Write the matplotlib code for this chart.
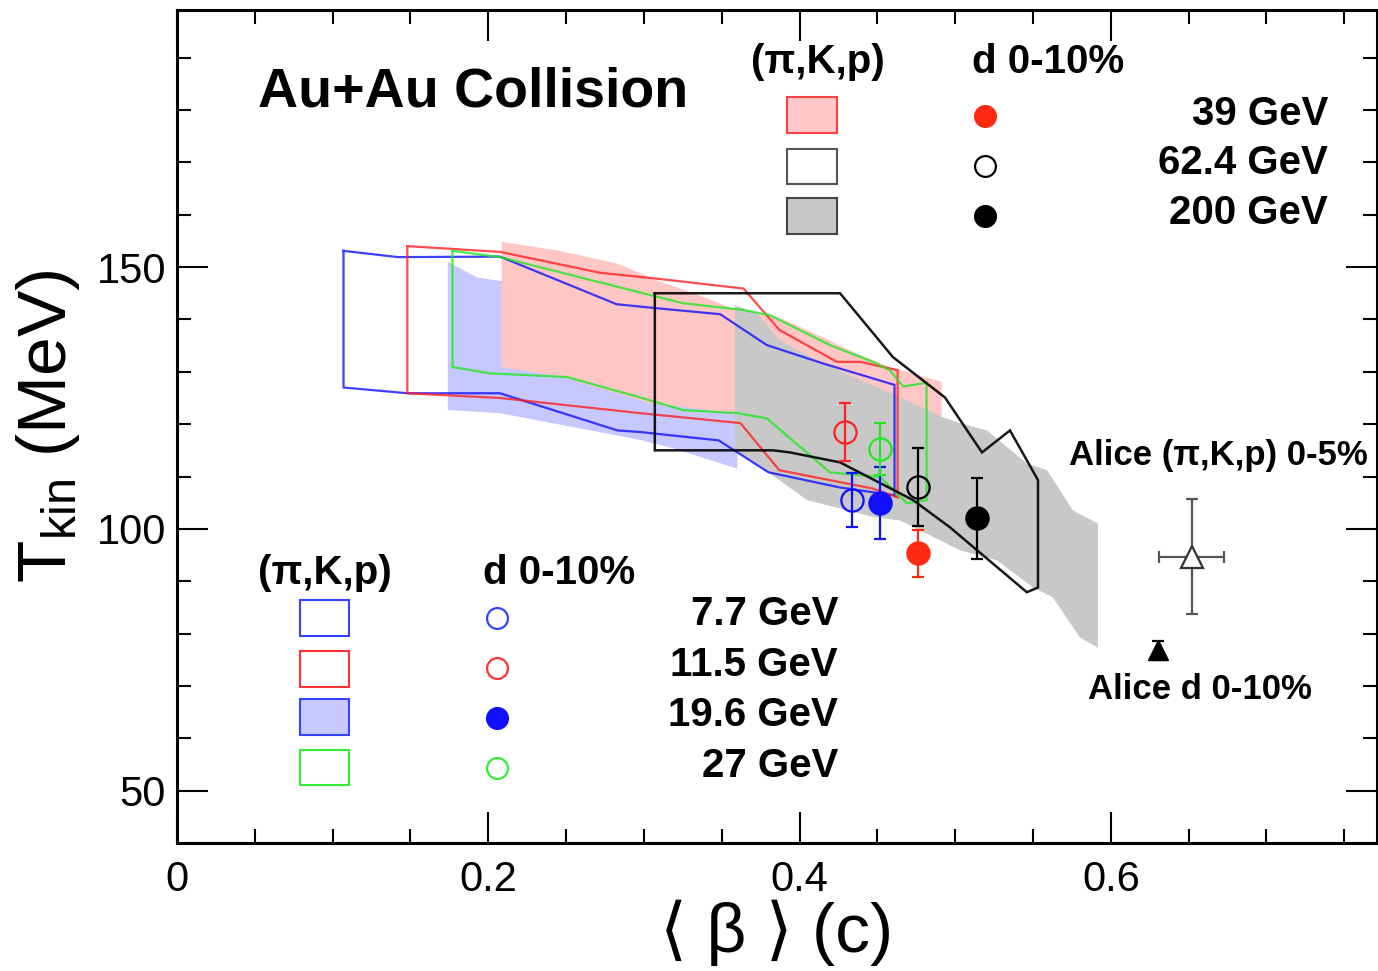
import numpy as np
import matplotlib
matplotlib.use("Agg")
import matplotlib.pyplot as plt
from matplotlib.patches import Rectangle
from matplotlib.ticker import MultipleLocator, FuncFormatter

plt.rcParams['font.family'] = ['Liberation Sans', 'DejaVu Sans']
plt.rcParams['mathtext.fontset'] = 'custom'
plt.rcParams['mathtext.rm'] = 'Liberation Sans'
plt.rcParams['mathtext.it'] = 'Liberation Sans:italic'
plt.rcParams['mathtext.bf'] = 'Liberation Sans:bold'

# (pi,K,p) blast-wave contours, open: upper edge and lower edge
c77_up_x = [0.107, 0.142, 0.2075, 0.2825, 0.306, 0.349, 0.379, 0.415, 0.461]
c77_up_y = [153.1, 151.9, 152.0, 142.9, 142.2, 141.0, 135.1, 131.6, 127.5]
c77_lo_x = [0.107, 0.148, 0.2075, 0.283, 0.2975, 0.348, 0.380, 0.426, 0.461]
c77_lo_y = [127.0, 125.9, 125.9, 118.8, 118.5, 116.9, 110.8, 107.9, 106.4]

c115_up_x = [0.148, 0.2075, 0.272, 0.308, 0.364, 0.387, 0.424, 0.439, 0.463]
c115_up_y = [154.0, 152.9, 148.9, 147.8, 145.9, 138.0, 131.9, 131.9, 130.3]
c115_lo_x = [0.148, 0.2075, 0.2975, 0.362, 0.387, 0.447, 0.463]
c115_lo_y = [125.9, 125.0, 122.1, 120.2, 111.2, 107.7, 106.0]

c27_up_x = [0.177, 0.2075, 0.325, 0.364, 0.381, 0.4195, 0.447, 0.458, 0.4666, 0.4816]
c27_up_y = [153.1, 151.9, 143.1, 141.8, 140.8, 135.1, 131.9, 130.3, 127.2, 127.9]
c27_lo_x = [0.177, 0.201, 0.2506, 0.2975, 0.325, 0.360, 0.379, 0.4195, 0.4517, 0.469, 0.4816]
c27_lo_y = [130.9, 129.7, 129.0, 125.1, 122.7, 122.1, 121.1, 110.8, 109.9, 104.9, 105.5]

c624_up_x = [0.307, 0.426, 0.460, 0.4934, 0.5172, 0.5352, 0.5532]
c624_up_y = [145.0, 145.0, 132.8, 125.1, 114.6, 118.8, 109.3]
c624_lo_x = [0.307, 0.383, 0.3938, 0.426, 0.4729, 0.4966, 0.546, 0.5532]
c624_lo_y = [115.0, 115.0, 114.6, 112.7, 105.5, 100.3, 87.9, 88.8]

# filled bands
f196_up_x = [0.174, 0.193, 0.209, 0.360]
f196_up_y = [151.0, 148.0, 147.3, 140.0]
f196_lo_x = [0.174, 0.2075, 0.2975, 0.3187, 0.360]
f196_lo_y = [122.7, 122.1, 117.0, 115.4, 111.5]

f39_up_x = [0.2086, 0.244, 0.2825, 0.3082, 0.338, 0.3596, 0.3789, 0.3874, 0.415, 0.4367, 0.458, 0.4913]
f39_up_y = [154.8, 153.2, 150.7, 147.5, 144.3, 141.8, 140.8, 140.3, 136.6, 133.5, 130.9, 128.1]
f39_lo_x = [0.2086, 0.248, 0.304, 0.360, 0.400, 0.450, 0.4913]
f39_lo_y = [130.9, 129.0, 124.0, 122.0, 122.0, 121.5, 121.3]

f200_up_x = [0.3585, 0.3724, 0.3874, 0.415, 0.458, 0.4924, 0.503, 0.5204, 0.546, 0.559, 0.5757, 0.5917]
f200_up_y = [142.7, 141.2, 136.0, 131.6, 126.0, 121.3, 120.2, 118.8, 112.5, 111.2, 103.5, 101.0]
f200_lo_x = [0.3585, 0.387, 0.4048, 0.447, 0.4645, 0.503, 0.5268, 0.55, 0.5628, 0.580, 0.5917]
f200_lo_y = [115.0, 109.3, 105.5, 102.3, 101.6, 95.9, 94.0, 88.8, 86.9, 79.3, 77.3]

# deuteron 0-10% points
energies = ["7.7", "11.5", "19.6", "27", "39", "62.4", "200"]
d_beta = [0.4337, 0.4292, 0.4517, 0.4517, 0.476, 0.476, 0.514]
d_tkin = [105.5, 118.5, 104.9, 115.2, 95.3, 108.0, 102.0]
d_err = [5.2, 5.5, 6.9, 5.0, 4.5, 7.5, 7.7]

alice_pkp = (0.652, 94.7)
alice_pkp_xerr = 0.021
alice_pkp_yerr = 11.0
alice_d = (0.6305, 76.8)
alice_d_yerr = 1.8

BLUE = '#1010ff'
RED = '#ff2020'
GREEN = '#22e822'
DRED = '#ff2a12'

fig = plt.figure(figsize=(13.78, 9.71), dpi=100)
ax = fig.add_axes([177/1378, 1-843/971, 1200/1378, 833/971])


def band(xu, yu, xl, yl, face, z):
    px = list(xu) + list(xl[::-1])
    py = list(yu) + list(yl[::-1])
    ax.fill(px, py, color=face, lw=0, zorder=z)


def contour(xu, yu, xl, yl, col, lw=1.6, alpha=0.8):
    px = list(xu) + list(xl[::-1]) + [xu[0]]
    py = list(yu) + list(yl[::-1]) + [yu[0]]
    ax.plot(px, py, color=col, lw=lw, alpha=alpha, zorder=4, solid_joinstyle='miter')


band(f196_up_x, f196_up_y, f196_lo_x, f196_lo_y, '#c6c8ff', 1)
band(f39_up_x, f39_up_y, f39_lo_x, f39_lo_y, '#ffc6c6', 2)
band(f200_up_x, f200_up_y, f200_lo_x, f200_lo_y, '#c8c8c8', 3)

contour(c77_up_x, c77_up_y, c77_lo_x, c77_lo_y, BLUE)
contour(c115_up_x, c115_up_y, c115_lo_x, c115_lo_y, RED)
contour(c27_up_x, c27_up_y, c27_lo_x, c27_lo_y, GREEN)
contour(c624_up_x, c624_up_y, c624_lo_x, c624_lo_y, 'black', lw=1.8, alpha=0.9)

# marker styles per energy: (color, filled)
styles = [(BLUE, False), (RED, False), (BLUE, True), (GREEN, False),
          (DRED, True), ('black', False), ('black', True)]
for i, (col, filled) in enumerate(styles):
    ax.errorbar(d_beta[i], d_tkin[i], yerr=d_err[i], fmt='o', ms=16,
                mfc=col if filled else 'none', mec=col, mew=1.6,
                ecolor=col, elinewidth=1.6, capsize=4, capthick=1.6, zorder=6)

ax.errorbar(alice_pkp[0], alice_pkp[1], xerr=alice_pkp_xerr, yerr=alice_pkp_yerr,
            fmt='^', ms=16, mfc='white', mec='#333333', mew=1.6,
            ecolor='#555555', elinewidth=1.6, capsize=4, capthick=1.6, zorder=6)
ax.errorbar(alice_d[0], alice_d[1], yerr=alice_d_yerr, fmt='^', ms=14,
            mfc='black', mec='black', ecolor='black', elinewidth=1.6,
            capsize=4, capthick=1.6, zorder=6)

# legends drawn by hand
bold = dict(fontweight='bold', color='black')
ax.text(0.052, 183.4, "Au+Au Collision", fontsize=40, va='center', ha='left', **bold)

ax.text(0.4118, 189.1, "(π,K,p)", fontsize=29, ha='center', va='center', **bold)
ax.text(0.5108, 189.1, "d 0-10%", fontsize=29, ha='left', va='center', **bold)
top_boxes = [('#ffc8c8', '#ff4040'), ('white', '#555555'), ('#c8c8c8', '#444444')]
top_box_y = [175.6, 165.8, 156.3]
top_mark = [(DRED, True), ('black', False), ('black', True)]
top_mark_y = [178.8, 169.3, 159.7]
top_lab = ["39 GeV", "62.4 GeV", "200 GeV"]
top_lab_y = [179.2, 169.8, 160.3]
for i in range(3):
    ax.add_patch(Rectangle((0.392, top_box_y[i]), 0.032, 6.8, facecolor=top_boxes[i][0],
                           edgecolor=top_boxes[i][1], lw=1.5, zorder=7))
    col, filled = top_mark[i]
    ax.plot(0.5191, top_mark_y[i], 'o', ms=15, mfc=col if filled else 'white',
            mec=col, mew=1.6, zorder=7)
    ax.text(0.7395, top_lab_y[i], top_lab[i], fontsize=29, ha='right', va='center', **bold)

ax.text(0.0951, 91.6, "(π,K,p)", fontsize=29, ha='center', va='center', **bold)
ax.text(0.1966, 91.6, "d 0-10%", fontsize=29, ha='left', va='center', **bold)
bot_boxes = [('white', '#3344ff'), ('white', '#ff3333'), ('#c8c8ff', '#3344ff'), ('white', '#33ee33')]
bot_box_y = [79.6, 69.8, 60.7, 51.0]
bot_mark = [('#3344ff', False), ('#ff3333', False), (BLUE, True), ('#33ee33', False)]
bot_mark_y = [83.0, 73.5, 63.9, 54.4]
bot_lab = ["7.7 GeV", "11.5 GeV", "19.6 GeV", "27 GeV"]
bot_lab_y = [83.8, 74.0, 64.5, 54.8]
for i in range(4):
    ax.add_patch(Rectangle((0.079, bot_box_y[i]), 0.0315, 6.8, facecolor=bot_boxes[i][0],
                           edgecolor=bot_boxes[i][1], lw=1.5, zorder=7))
    col, filled = bot_mark[i]
    ax.plot(0.2056, bot_mark_y[i], 'o', ms=15, mfc=col if filled else 'white',
            mec=col, mew=1.6, zorder=7)
    ax.text(0.4247, bot_lab_y[i], bot_lab[i], fontsize=29, ha='right', va='center', **bold)

ax.text(0.6694, 114.1, "Alice (π,K,p) 0-5%", fontsize=25, ha='center', va='center', **bold)
ax.text(0.657, 69.3, "Alice d 0-10%", fontsize=25, ha='center', va='center', **bold)

# axes
ax.set_xlim(0, 0.771)
ax.set_ylim(40, 199.1)
ax.xaxis.set_major_locator(MultipleLocator(0.2))
ax.xaxis.set_minor_locator(MultipleLocator(0.05))
ax.yaxis.set_major_locator(MultipleLocator(50))
ax.yaxis.set_minor_locator(MultipleLocator(10))
ax.xaxis.set_major_formatter(FuncFormatter(lambda v, p: "0" if abs(v) < 1e-9 else f"{v:g}"))
ax.tick_params(which='both', direction='in', top=True, right=True, labelsize=30, width=1.5)
ax.tick_params(which='major', length=22)
ax.tick_params(axis='x', which='major', pad=12)
ax.tick_params(axis='y', which='major', pad=8)
ax.tick_params(which='minor', length=10)
for s in ax.spines.values():
    s.set_linewidth(2.2)

ax.set_ylabel(r"T$_{\rm kin}$ (MeV)", fontsize=50, labelpad=10)
ax.set_xlabel("⟨ β ⟩ (c)", fontsize=50, labelpad=0)

fig.savefig("out.png", dpi=100)
